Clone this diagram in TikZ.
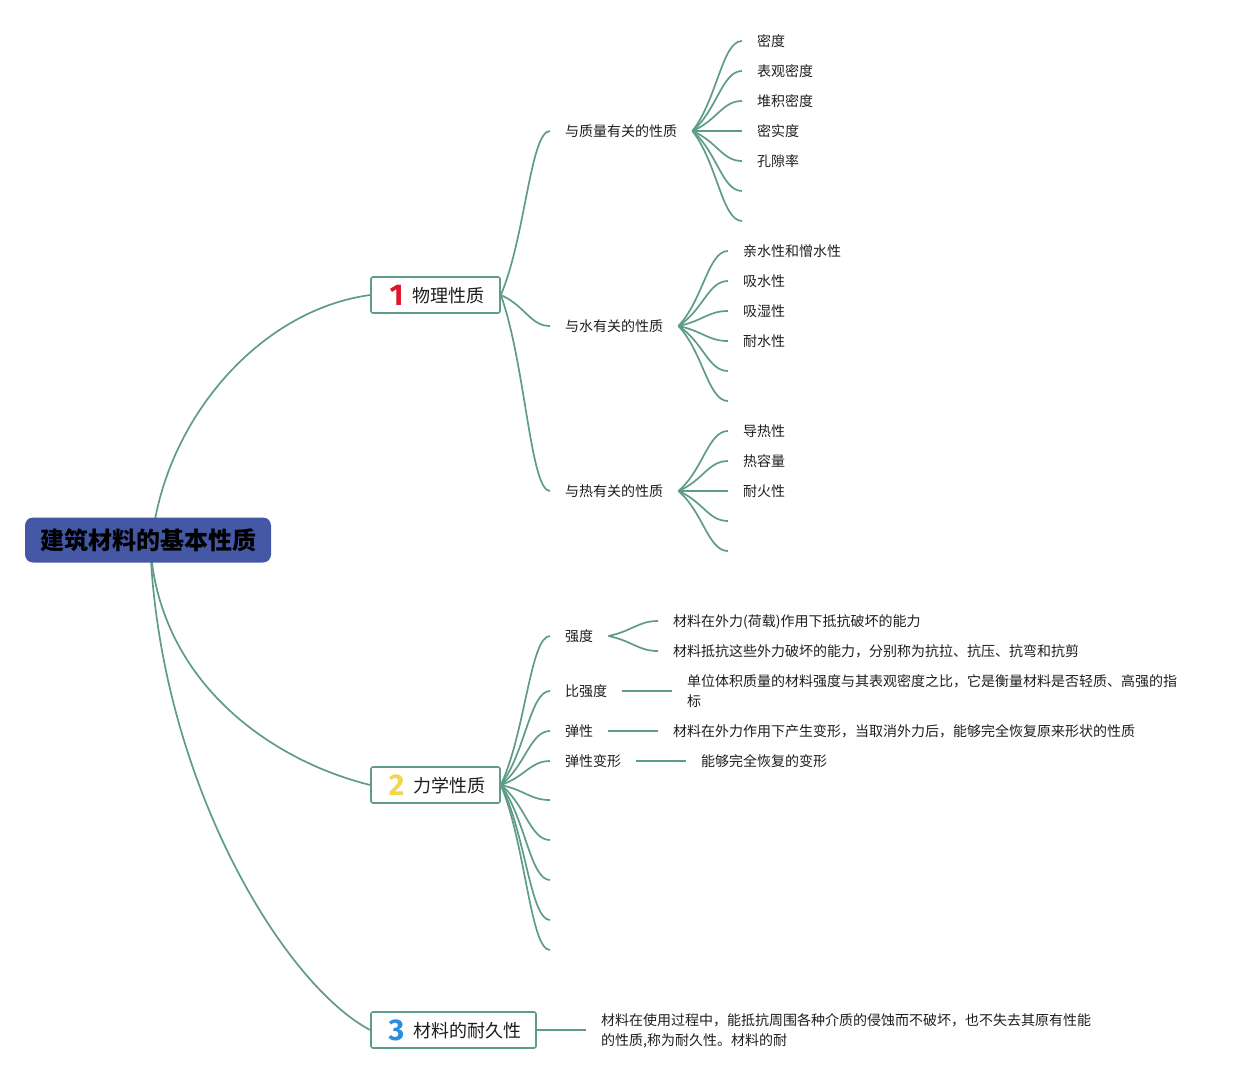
\documentclass[tikz,border=0pt]{standalone}
\usepackage{fontspec}
\setmainfont{Noto Sans CJK SC}
\newfontfamily\numfont{Fira Sans}
\usetikzlibrary{calc}
\definecolor{lnk}{HTML}{5E9C88}
\definecolor{rootblue}{HTML}{4558A5}
\definecolor{numred}{HTML}{E0162B}
\definecolor{numyellow}{HTML}{F3D54E}
\definecolor{numblue}{HTML}{2B8DDF}
\definecolor{ink}{HTML}{1E1E1E}
\pgfdeclarelayer{bg}
\pgfsetlayers{bg,main}
\tikzset{
  conn/.style={draw=lnk, line width=1.7pt},
  branch/.style={to path={let \p1=(\tikztostart), \p2=(\tikztotarget) in
     .. controls ({\x1+0.5*(\x2-\x1)},{\y1+0.35*(\y2-\y1)}) and ({\x1+0.6*(\x2-\x1)},{\y2}) .. (\tikztotarget)}},
  txt/.style={anchor=west, inner xsep=15pt, inner ysep=0pt, text=ink,
     font=\fontsize{14}{20}\selectfont, text height=12.3pt, text depth=1.7pt},
  txtml/.style={anchor=west, inner xsep=15pt, inner ysep=0pt, text=ink,
     font=\fontsize{14}{20}\selectfont, align=left},
  lvlbox/.style={draw=lnk, line width=1.6pt, fill=white, rounded corners=2pt,
     minimum height=36pt, inner sep=0pt, text=ink, font=\fontsize{18}{22}\selectfont},
  rootbox/.style={fill=rootblue, rounded corners=8pt, minimum width=246pt,
     minimum height=45pt, inner sep=0pt, text=black, font=\bfseries\fontsize{24}{28}\selectfont},
}
\newcommand\bignum[2]{\raisebox{-3pt}{\numfont\bfseries\fontsize{30}{30}\selectfont\color{#1}#2}}
\begin{document}
\begin{tikzpicture}[x=1pt,y=-1pt]
\useasboundingbox (0,0) rectangle (1247,1080);

% root and level 1
\node[rootbox] (root) at (148,540) {建筑材料的基本性质};
\node[lvlbox, minimum width=129pt] (phys) at (435.5,295) {\hspace{3pt}\bignum{numred}{1}\hspace{9pt}物理性质};
\node[lvlbox, minimum width=129pt] (mech) at (435.5,785) {\hspace{3pt}\bignum{numyellow}{2}\hspace{9pt}力学性质};
\node[lvlbox, minimum width=165pt] (dur) at (453.5,1030) {\hspace{3pt}\bignum{numblue}{3}\hspace{9pt}材料的耐久性};

% physical properties
\node[txt] (mass) at (550,131) {与质量有关的性质};
\node[txt] (water) at (550,326) {与水有关的性质};
\node[txt] (heat) at (550,491) {与热有关的性质};

\node[txt] (m1) at (742,41) {密度};
\node[txt] (m2) at (742,71) {表观密度};
\node[txt] (m3) at (742,101) {堆积密度};
\node[txt] (m4) at (742,131) {密实度};
\node[txt] (m5) at (742,161) {孔隙率};
\coordinate (m6) at (742,191);
\coordinate (m7) at (742,221);

\node[txt] (w1) at (728,251) {亲水性和憎水性};
\node[txt] (w2) at (728,281) {吸水性};
\node[txt] (w3) at (728,311) {吸湿性};
\node[txt] (w4) at (728,341) {耐水性};
\coordinate (w5) at (728,371);
\coordinate (w6) at (728,401);

\node[txt] (h1) at (728,431) {导热性};
\node[txt] (h2) at (728,461) {热容量};
\node[txt] (h3) at (728,491) {耐火性};
\coordinate (h4) at (728,521);
\coordinate (h5) at (728,551);

% mechanical properties
\node[txt] (str) at (550,636) {强度};
\node[txt] (sstr) at (550,691) {比强度};
\node[txt] (ela) at (550,731) {弹性};
\node[txt] (eld) at (550,761) {弹性变形};
\coordinate (k5) at (550,800);
\coordinate (k6) at (550,840);
\coordinate (k7) at (550,880);
\coordinate (k8) at (550,920);
\coordinate (k9) at (550,950);

\node[txt] (s1) at (658,621) {材料在外力(荷载)作用下抵抗破坏的能力};
\node[txt] (s2) at (658,651) {材料抵抗这些外力破坏的能力，分别称为抗拉、抗压、抗弯和抗剪};
\node[txtml] (sq) at (672,691) {单位体积质量的材料强度与其表观密度之比，它是衡量材料是否轻质、高强的指\\标};
\node[txt] (el1) at (658,731) {材料在外力作用下产生变形，当取消外力后，能够完全恢复原来形状的性质};
\node[txt] (ed1) at (686,761) {能够完全恢复的变形};

% durability
\node[txtml] (du1) at (586,1031) {材料在使用过程中，能抵抗周围各种介质的侵蚀而不破坏，也不失去其原有性能\\的性质,称为耐久性。材料的耐};

\begin{pgfonlayer}{bg}
  \draw[conn] ([xshift=4pt]root.center) .. controls +(13,-120) and +(-111,15) .. (phys.west);
  \draw[conn] ([xshift=2pt]root.center) .. controls +(6,140) and +(-101,-25) .. (mech.west);
  \draw[conn] ([xshift=2pt]root.center) .. controls +(8,240) and +(-86,-45) .. (dur.west);

  \foreach \t in {mass,water,heat} \draw[conn] (phys.east) to[branch] (\t.west);
  \foreach \t in {m1,m2,m3,m4,m5} \draw[conn] (mass.east) to[branch] (\t.west);
  \foreach \t in {m6,m7} \draw[conn] (mass.east) to[branch] (\t);
  \foreach \t in {w1,w2,w3,w4} \draw[conn] (water.east) to[branch] (\t.west);
  \foreach \t in {w5,w6} \draw[conn] (water.east) to[branch] (\t);
  \foreach \t in {h1,h2,h3} \draw[conn] (heat.east) to[branch] (\t.west);
  \foreach \t in {h4,h5} \draw[conn] (heat.east) to[branch] (\t);

  \foreach \t in {str,sstr,ela,eld} \draw[conn] (mech.east) to[branch] (\t.west);
  \foreach \t in {k5,k6,k7,k8,k9} \draw[conn] (mech.east) to[branch] (\t);
  \foreach \t in {s1,s2} \draw[conn] (str.east) to[branch] (\t.west);
  \draw[conn] (sstr.east) -- (sstr.east -| sq.west);
  \draw[conn] (ela.east) to[branch] (el1.west);
  \draw[conn] (eld.east) to[branch] (ed1.west);
  \draw[conn] (dur.east) -- (dur.east -| du1.west);
\end{pgfonlayer}
\end{tikzpicture}
\end{document}
